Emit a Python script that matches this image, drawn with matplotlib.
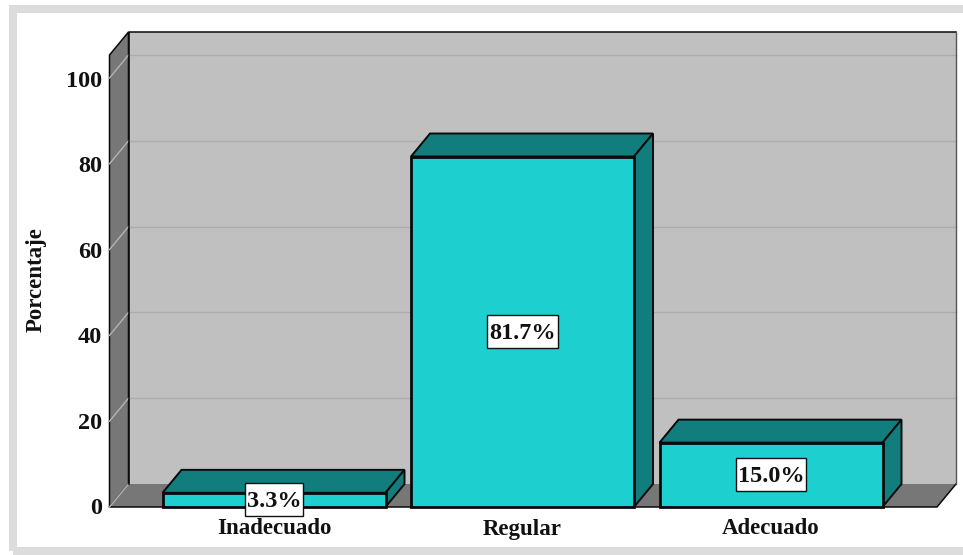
import matplotlib
matplotlib.use("Agg")
import matplotlib.pyplot as plt
from matplotlib.patches import Polygon, Rectangle

categories = ["Inadecuado", "Regular", "Adecuado"]
values = [3.3, 81.7, 15.0]
bar_labels = ["3.3%", "81.7%", "15.0%"]
y_ticks = [0, 20, 40, 60, 80, 100]
y_title = "Porcentaje"

W, H = 963, 555
fig = plt.figure(figsize=(W / 100, H / 100), dpi=100)
ax = fig.add_axes([0, 0, 1, 1])
ux = 248.5   # px per category
uy = 4.29    # px per percent
cx0 = 274.0  # px of first category
y0 = 507.0   # px of value 0
ax.set_xlim(-cx0 / ux, (W - cx0) / ux)
ax.set_ylim(-(H - y0) / uy, y0 / uy)
ax.axis("off")

dx = 19 / ux
dy = 23 / uy
px = lambda p: (p - cx0) / ux
py = lambda p: (y0 - p) / uy

FACE, DARK = "#1dcfcf", "#127d7d"
WALL, BACK = "#777777", "#c0c0c0"
EDGE = "#0a0a0a"
TXT = "#111111"
SERIF = "Liberation Serif"

# outer frame
ax.add_patch(Rectangle((px(13), py(551)), 952 / ux, 542 / uy, fill=False,
                       ec="#dcdcdc", lw=5.8, zorder=1, clip_on=False))

left, right = px(109.5), px(937)
top = py(55)
# back wall, left wall, floor
ax.add_patch(Polygon([(left + dx, dy), (right + dx, dy), (right + dx, top + dy), (left + dx, top + dy)],
                     fc=BACK, ec="none", zorder=2))
ax.plot([left + dx, left + dx, right + dx], [dy, top + dy, top + dy], color=EDGE, lw=1.1, zorder=2.3)
ax.plot([right + dx, right + dx], [dy, top + dy], color="#555555", lw=1.0, zorder=2.3)
ax.add_patch(Polygon([(left, 0), (left + dx, dy), (left + dx, top + dy), (left, top)],
                     fc=WALL, ec=EDGE, lw=1.1, zorder=2))
ax.add_patch(Polygon([(left, 0), (right, 0), (right + dx, dy), (left + dx, dy)],
                     fc=WALL, ec="none", zorder=2))
ax.plot([left, right, right + dx], [0, 0, dy], color=EDGE, lw=1.1, zorder=2.1)

# gridlines and tick labels
for t in y_ticks:
    if t > 0:
        ax.plot([left + dx, right + dx], [t + dy, t + dy], color="#adadad", lw=1.0, zorder=2.2)
    ax.plot([left, left + dx], [t, t + dy], color="#b4b4b4", lw=1.0, zorder=2.2)
    ax.text(px(102), t - (2 + t / 100) / uy, str(t), ha="right", va="center", family=SERIF,
            fontweight="bold", fontsize=17.5, color=TXT, zorder=5)

ax.text(px(36.5), py(280), y_title, rotation=90, ha="center", va="center",
        family=SERIF, fontweight="bold", fontsize=16.5, color=TXT)

# bars
half = 111.5 / ux
renderer = fig.canvas.get_renderer()
for i, (cat, v, lab) in enumerate(zip(categories, values, bar_labels)):
    a, b = i - half, i + half
    ax.add_patch(Polygon([(a, v), (b, v), (b + dx, v + dy), (a + dx, v + dy)],
                         fc=DARK, ec=EDGE, lw=1.4, joinstyle="miter", zorder=3))
    ax.add_patch(Polygon([(b, 0), (b + dx, dy), (b + dx, v + dy), (b, v)],
                         fc=DARK, ec=EDGE, lw=1.4, joinstyle="miter", zorder=3))
    ax.add_patch(Rectangle((a, 0), b - a, v, fc=FACE, ec=EDGE, lw=2.0, zorder=3.5))
    txt = ax.text(i, v / 2 - 1.5 / uy, lab, ha="center", va="center", family=SERIF,
                  fontweight="bold", fontsize=17.5, color=TXT, zorder=6)
    tw = txt.get_window_extent(renderer).width
    bw, bh = (tw + 4) / ux, 33 / uy
    ax.add_patch(Rectangle((i - bw / 2, v / 2 - bh / 2), bw, bh, fc="white", ec=TXT, lw=1.0, zorder=5.5))
    ax.text(i, py(534.5), cat, ha="center", va="baseline", family=SERIF,
            fontweight="bold", fontsize=16.5, color=TXT, zorder=5)

fig.savefig("out.png", dpi=100)
